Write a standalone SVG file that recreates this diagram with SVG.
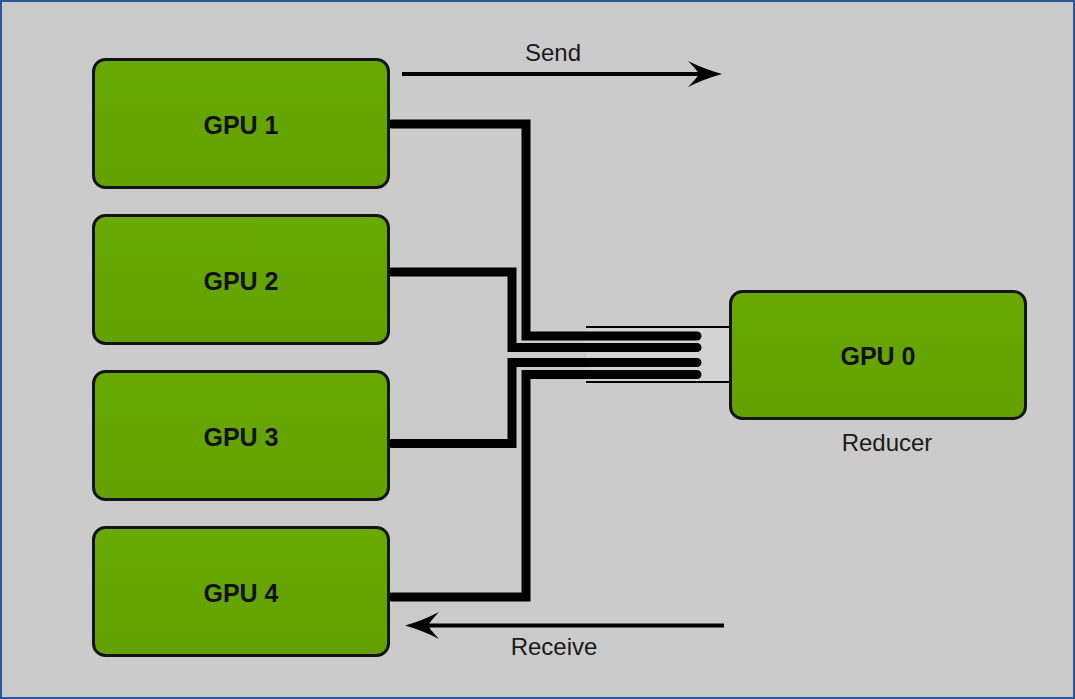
<svg xmlns="http://www.w3.org/2000/svg" width="1075" height="699" viewBox="0 0 1075 699">
<style>
.box{fill:url(#g);stroke:#141414;stroke-width:3}
.lbl{font-family:"Liberation Sans",Arial,sans-serif;font-weight:bold;font-size:25px;fill:#111;text-anchor:middle}
.txt{font-family:"Liberation Sans",Arial,sans-serif;font-size:24px;fill:#1a1a1a;text-anchor:middle}
.wire{fill:none;stroke:#000;stroke-width:9;stroke-linejoin:miter;stroke-linecap:round}
.thin{fill:none;stroke:#000;stroke-width:2}
.arr{fill:none;stroke:#000;stroke-width:4}
.head{fill:#000}
</style>
<defs>
<linearGradient id="g" x1="0" y1="0" x2="0" y2="1">
<stop offset="0" stop-color="#69a902"/>
<stop offset="1" stop-color="#63a100"/>
</linearGradient>
</defs>
<rect x="1" y="1" width="1073" height="697" fill="#cbcbcb" stroke="#2f5597" stroke-width="2"/>
<g id="connectors">
<rect x="586" y="327" width="143" height="55" fill="#d3d3d3"/>
<path class="wire" d="M392,124 H526 V336 H697"/>
<path class="wire" d="M392,272 H512 V347.5 H697"/>
<path class="wire" d="M392,443.5 H512 V362.5 H697"/>
<path class="wire" d="M392,597 H526 V374.5 H697"/>
<path class="thin" d="M586,327 H729 M586,382 H729"/>
<g id="send">
<path class="arr" d="M402,74 H702"/>
<path class="head" d="M722,74 Q704,69 688,61 Q697,70 699,74 Q697,78 688,87 Q704,79 722,74 Z"/>
<text class="txt" x="553" y="61">Send</text>
</g>
<g id="receive">
<path class="arr" d="M724,625.5 H425"/>
<path class="head" d="M405,625.5 Q423,620.5 439,612 Q430,621.5 428,625.5 Q430,629.5 439,639 Q423,630.5 405,625.5 Z"/>
<text class="txt" x="554" y="655">Receive</text>
</g>
</g>
<g id="gpu1">
<rect class="box" x="93.5" y="59.5" width="295" height="128" rx="12"/>
<text class="lbl" x="241" y="134">GPU 1</text>
</g>
<g id="gpu2">
<rect class="box" x="93.5" y="215.5" width="295" height="128" rx="12"/>
<text class="lbl" x="241" y="290">GPU 2</text>
</g>
<g id="gpu3">
<rect class="box" x="93.5" y="371.5" width="295" height="128" rx="12"/>
<text class="lbl" x="241" y="446">GPU 3</text>
</g>
<g id="gpu4">
<rect class="box" x="93.5" y="527.5" width="295" height="128" rx="12"/>
<text class="lbl" x="241" y="602">GPU 4</text>
</g>
<g id="gpu0">
<rect class="box" x="730.5" y="291.5" width="295" height="127" rx="12"/>
<text class="lbl" x="878" y="365">GPU 0</text>
<text class="txt" x="887" y="451">Reducer</text>
</g>
</svg>
